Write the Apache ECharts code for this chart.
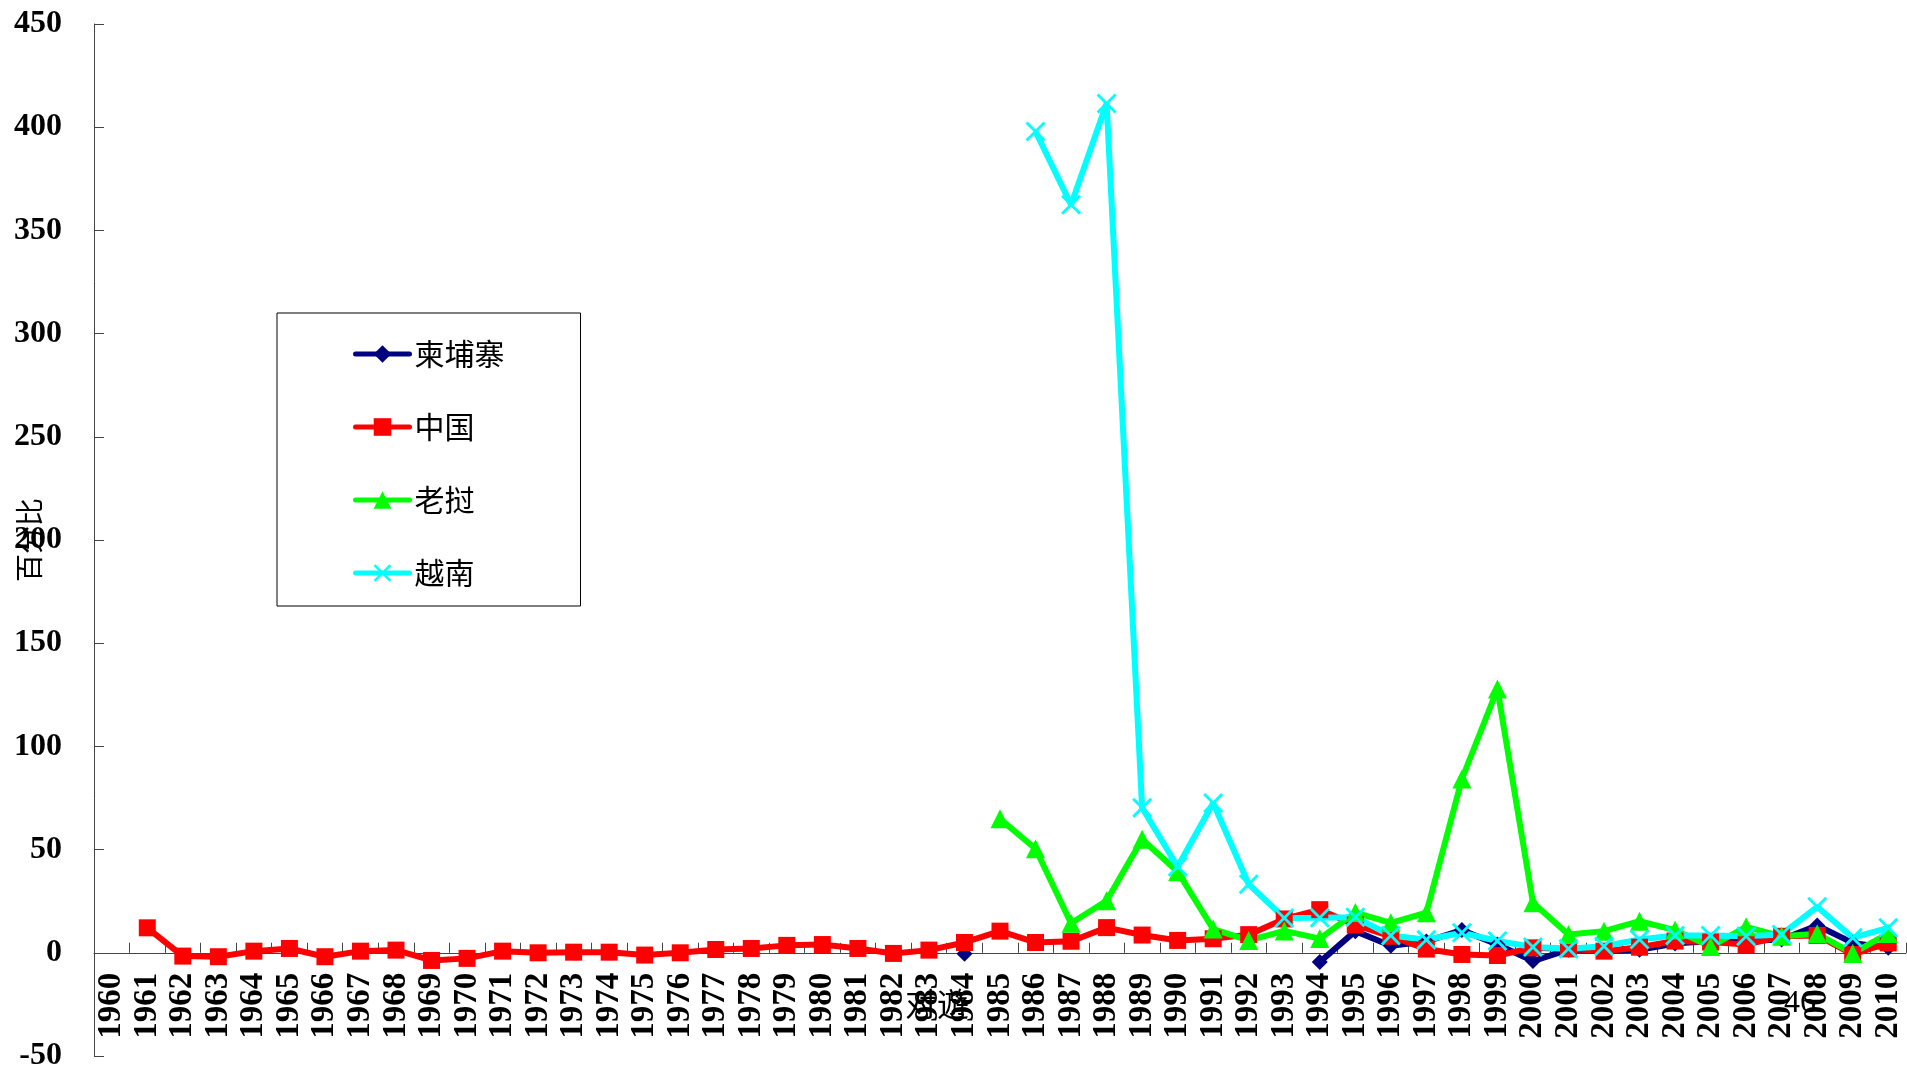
<!DOCTYPE html>
<html>
<head>
<meta charset="utf-8">
<script src="https://cdn.jsdelivr.net/npm/echarts@6/dist/echarts.min.js"></script>
<style>
html,body{margin:0;padding:0;background:#fff;}
#chart{width:1907px;height:1072px;}
</style>
</head>
<body>
<div id="chart"></div>
<script>
var years = [];
for (var y = 1960; y <= 2010; y++) years.push(String(y));

var seriesNames = ['柬埔寨', '中国', '老挝', '越南'];

// 1960 .. 2010
var cambodia = [
  null, null, null, null, null, null, null, null, null, null,
  null, null, null, null, null, null, null, null, null, null,
  null, null, null, null, -0.5, null, null, null, null, null,
  null, null, null, null, -4.5, 10.5, 3.4, 5.5, 11.0, 4.0,
  -4.0, 1.5, 0.8, 1.5, 4.5, 5.7, 5.7, 6.5, 13.2, 4.8,
  2.4
];
var china = [
  null, 12.1, -1.6, -1.9, 0.8, 2.1, -1.9, 0.8, 1.3, -3.7,
  -2.7, 0.8, 0.0, 0.3, 0.3, -1.1, 0.0, 1.6, 2.1, 3.6,
  4.0, 2.1, -0.3, 1.3, 5.0, 10.5, 5.0, 5.6, 12.2, 8.6,
  6.0, 6.8, 8.8, 16.4, 20.9, 13.5, 8.0, 1.8, -0.8, -1.3,
  2.4, 1.9, 0.8, 2.7, 5.7, 5.2, 4.0, 8.0, 8.4, -0.8,
  4.8
];
var laos = [
  null, null, null, null, null, null, null, null, null, null,
  null, null, null, null, null, null, null, null, null, null,
  null, null, null, null, null, 64.9, 50.4, 14.3, 25.2, 55.0,
  39.3, 11.5, 6.0, 10.6, 6.9, 19.5, 14.5, 19.4, 84.2, 127.8,
  24.2, 8.9, 10.5, 15.3, 11.0, 3.0, 12.6, 8.0, 9.2, -0.3,
  9.4
];
var vietnam = [
  null, null, null, null, null, null, null, null, null, null,
  null, null, null, null, null, null, null, null, null, null,
  null, null, null, null, null, null, 397.9, 362.4, 411.5, 70.3,
  41.7, 72.6, 33.2, 16.9, 17.0, 17.2, 8.4, 6.3, 9.7, 5.7,
  2.8, 2.0, 3.2, 6.5, 8.4, 8.4, 8.0, 8.9, 22.3, 7.3,
  12.1
];

var yMin = -50, yMax = 450, yStep = 50;
var yAxisName = '百分比';

var gridTop = 24, gridBottom = 16, chartH = 1072;
var plotH = chartH - gridTop - gridBottom;
// distance from the plot bottom (yMin) up to the zero line
var zeroOffset = plotH * (0 - yMin) / (yMax - yMin);

var xSymbol = 'path://M0,1 L1,0 L5,4 L9,0 L10,1 L6,5 L10,9 L9,10 L5,6 L1,10 L0,9 L4,5 Z';

function mkSeries(name, data, color, symbol, size) {
  return {
    name: name,
    type: 'line',
    data: data,
    connectNulls: false,
    symbol: symbol,
    symbolSize: size,
    showAllSymbol: true,
    lineStyle: { color: color, width: 6 },
    itemStyle: { color: color },
    emphasis: { disabled: true }
  };
}

var chart = echarts.init(document.getElementById('chart'));
chart.setOption({
  animation: false,
  backgroundColor: '#fff',
  grid: { left: 94, right: 1, top: gridTop, bottom: gridBottom, containLabel: false, outerBoundsMode: 'none' },
  legend: {
    orient: 'vertical',
    left: 277,
    top: 313,
    padding: [25, 76, 17, 76],
    itemGap: 41,
    itemWidth: 54,
    itemHeight: 22,
    borderColor: '#000',
    borderWidth: 1,
    backgroundColor: '#fff',
    data: seriesNames,
    lineStyle: { width: 5, cap: 'round' },
    textStyle: { fontFamily: 'Noto Sans CJK SC', fontSize: 30, color: '#000', lineHeight: 32 }
  },
  xAxis: {
    type: 'category',
    data: years,
    boundaryGap: true,
    offset: -zeroOffset,
    axisLine: { onZero: false, lineStyle: { color: '#444', width: 1 } },
    axisTick: { show: true, inside: true, length: 10, interval: 0, alignWithLabel: false, lineStyle: { color: '#444' } },
    axisLabel: {
      interval: 0, rotate: 90, margin: 20,
      fontFamily: 'Liberation Serif', fontWeight: 'bold', fontSize: 33, color: '#000'
    },
    splitLine: { show: false }
  },
  yAxis: {
    type: 'value',
    min: yMin, max: yMax, interval: yStep,
    name: yAxisName,
    nameLocation: 'middle',
    nameRotate: 90,
    nameGap: 51,
    nameMoveOverlap: false,
    nameTextStyle: { fontFamily: 'Noto Sans CJK SC', fontSize: 28, color: '#000' },
    axisLine: { show: true, onZero: false, lineStyle: { color: '#444', width: 1 } },
    axisTick: { show: true, inside: true, length: 10, lineStyle: { color: '#444' } },
    axisLabel: {
      margin: 32,
      fontFamily: 'Liberation Serif', fontWeight: 'bold', fontSize: 32, color: '#000'
    },
    splitLine: { show: false }
  },
  graphic: [
    { type: 'text', left: 905, top: 988, style: { text: '对遊', font: '32px "Noto Sans CJK SC"', fill: '#000' } },
    { type: 'text', left: 1784, top: 988, style: { text: '46', font: '32px "Liberation Serif"', fill: '#000' } }
  ],
  series: [
    mkSeries(seriesNames[0], cambodia, '#000080', 'diamond', 16),
    mkSeries(seriesNames[1], china, '#ff0000', 'rect', 17),
    mkSeries(seriesNames[2], laos, '#00ff00', 'triangle', 19),
    mkSeries(seriesNames[3], vietnam, '#00ffff', xSymbol, 20)
  ]
});
</script>
</body>
</html>
